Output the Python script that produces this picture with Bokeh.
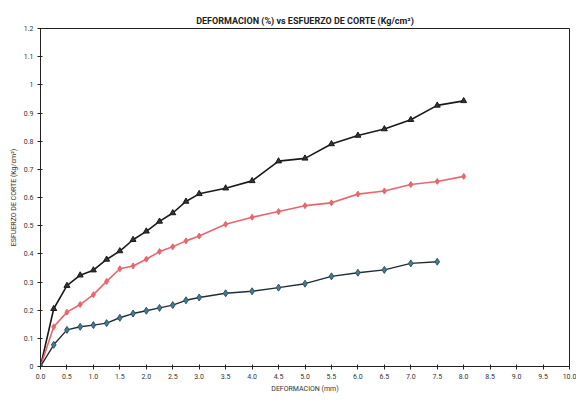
from bokeh.plotting import figure
from bokeh.models import FixedTicker, NumeralTickFormatter, Range1d
from bokeh.embed import file_html
from bokeh.resources import INLINE

# Data (deformation mm, shear stress kg/cm2)
x_black = [0, 0.25, 0.5, 0.75, 1.0, 1.25, 1.5, 1.75, 2.0, 2.25, 2.5, 2.75, 3.0,
           3.5, 4.0, 4.5, 5.0, 5.5, 6.0, 6.5, 7.0, 7.5, 8.0]
y_black = [0, 0.205, 0.287, 0.324, 0.342, 0.38, 0.41, 0.45, 0.48, 0.515, 0.545, 0.586, 0.613,
           0.633, 0.659, 0.729, 0.739, 0.79, 0.82, 0.843, 0.876, 0.927, 0.943]

x_red = [0, 0.25, 0.5, 0.75, 1.0, 1.25, 1.5, 1.75, 2.0, 2.25, 2.5, 2.75, 3.0,
         3.5, 4.0, 4.5, 5.0, 5.5, 6.0, 6.5, 7.0, 7.5, 8.0]
y_red = [0, 0.141, 0.193, 0.22, 0.255, 0.302, 0.347, 0.357, 0.381, 0.408, 0.425, 0.446, 0.463,
         0.505, 0.53, 0.55, 0.571, 0.581, 0.612, 0.623, 0.646, 0.657, 0.675]

x_blue = [0, 0.25, 0.5, 0.75, 1.0, 1.25, 1.5, 1.75, 2.0, 2.25, 2.5, 2.75, 3.0,
          3.5, 4.0, 4.5, 5.0, 5.5, 6.0, 6.5, 7.0, 7.5]
y_blue = [0, 0.077, 0.13, 0.141, 0.147, 0.154, 0.173, 0.188, 0.198, 0.208, 0.218, 0.235, 0.245,
          0.26, 0.267, 0.28, 0.294, 0.32, 0.333, 0.343, 0.366, 0.372]

x_ticks = [0, 0.5, 1, 1.5, 2, 2.5, 3, 3.5, 4, 4.5, 5, 5.5, 6, 6.5, 7, 7.5, 8, 8.5, 9, 9.5, 10]
y_ticks = [0, 0.1, 0.2, 0.3, 0.4, 0.5, 0.6, 0.7, 0.8, 0.9, 1.0, 1.1, 1.2]

FONT = "Roboto"

p = figure(width=576, height=395, output_backend="svg", toolbar_location=None,
           x_range=Range1d(0, 10), y_range=Range1d(0, 1.2),
           min_border_left=40, min_border_right=7, min_border_top=28, min_border_bottom=24,
           title="DEFORMACION (%) vs ESFUERZO DE CORTE (Kg/cm²)")

p.title.align = "center"
p.title.text_font = FONT
p.title.text_font_size = "9px"
p.title.text_font_style = "bold"
p.title.text_color = "#222222"
p.title.standoff = 6

p.xgrid.visible = False
p.ygrid.visible = False
p.outline_line_color = "#222222"
p.outline_line_width = 1
p.background_fill_color = "white"
p.border_fill_color = "white"

p.xaxis.ticker = FixedTicker(ticks=x_ticks)
p.xaxis.formatter = NumeralTickFormatter(format="0.0")
p.yaxis.ticker = FixedTicker(ticks=y_ticks)
p.yaxis.formatter = NumeralTickFormatter(format="0.[0]")
p.xaxis.axis_label = "DEFORMACION (mm)"
p.yaxis.axis_label = "ESFUERZO DE CORTE (Kg/cm²)"

for ax in (p.xaxis[0], p.yaxis[0]):
    ax.major_label_text_font = FONT
    ax.major_label_text_font_size = "7px"
    ax.major_label_text_color = "#333333"
    ax.axis_label_text_font = FONT
    ax.axis_label_text_font_size = "7px"
    ax.axis_label_text_font_style = "normal"
    ax.axis_label_text_color = "#333333"
    ax.axis_line_color = "#222222"
    ax.major_tick_line_color = "#222222"
    ax.major_tick_out = 3
    ax.major_tick_in = 2
    ax.minor_tick_line_color = None
    ax.major_label_standoff = 4
    ax.axis_label_standoff = 3

# Black series (triangles)
p.line(x_black, y_black, line_color="#1a1a1a", line_width=1.6)
p.scatter(x_black, y_black, marker="triangle", size=6, fill_color="#333333", line_color="#1a1a1a")

# Red series
p.line(x_red, y_red, line_color="#e8666c", line_width=1.6)
p.scatter(x_red[1:], y_red[1:], marker="diamond", size=6, fill_color="#e8666c", line_color="#e8666c")

# Blue series
p.line(x_blue, y_blue, line_color="#1f2e33", line_width=1.4)
p.scatter(x_blue, y_blue, marker="diamond", size=7, fill_color="#4a7890", line_color="#2f5566")

open("out.html", "w").write(file_html(p, INLINE))
